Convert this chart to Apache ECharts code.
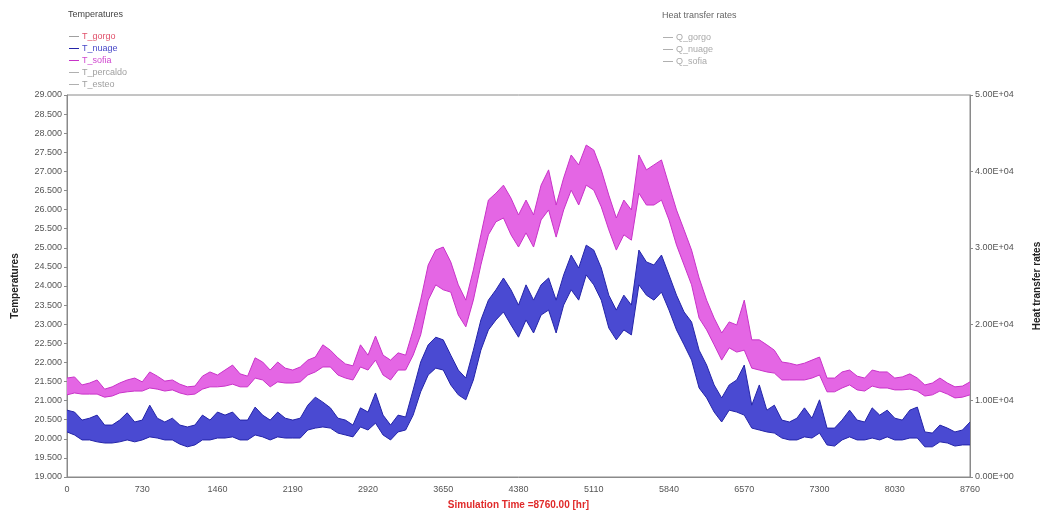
<!DOCTYPE html>
<html>
<head>
<meta charset="utf-8">
<script src="https://cdn.jsdelivr.net/npm/echarts@6/dist/echarts.min.js"></script>
<style>
html,body{margin:0;padding:0;background:#fff;}
#c{width:1041px;height:513px;}
</style>
</head>
<body>
<div id="c"></div>
<script>
// Sampling grid: hours 0..8760 every 73 h (121 samples)
const hours = [];
for (let i = 0; i <= 120; i++) hours.push(String(i * 73));

// X tick labels (every 730 h)
const xTickLabels = ['0','730','1460','2190','2920','3650','4380','5110','5840','6570','7300','8030','8760'];

// T_sofia (magenta) – upper and lower envelope of the hourly band
const tSofiaHi = [21.59,21.62,21.41,21.46,21.54,21.30,21.36,21.46,21.54,21.59,21.49,21.75,21.64,21.51,21.54,21.43,21.36,21.38,21.64,21.75,
  21.67,21.80,21.93,21.70,21.64,22.12,22.01,21.80,22.01,21.85,21.80,21.88,22.06,22.14,22.46,22.32,22.12,21.96,21.91,22.46,
  22.19,22.69,22.19,22.06,22.25,22.19,22.85,23.63,24.55,24.94,25.02,24.63,24.03,23.63,24.42,25.34,26.25,26.43,26.64,26.30,
  25.86,26.25,25.86,26.64,27.04,26.12,26.83,27.43,27.17,27.69,27.56,27.04,26.38,25.78,26.25,25.99,27.43,27.04,27.17,27.30,
  26.64,25.99,25.47,24.94,24.21,23.63,23.16,22.77,23.06,22.98,23.63,22.59,22.59,22.46,22.32,22.01,21.98,21.93,21.98,22.06,
  22.14,21.59,21.59,21.75,21.80,21.64,21.59,21.80,21.75,21.75,21.59,21.62,21.70,21.59,21.41,21.46,21.59,21.46,21.36,21.38,21.49];
const tSofiaLo = [21.15,21.20,21.17,21.17,21.17,21.09,21.12,21.20,21.23,21.25,21.25,21.33,21.30,21.25,21.28,21.20,21.15,21.17,21.30,21.36,
  21.36,21.38,21.43,21.36,21.36,21.59,21.54,21.36,21.49,21.46,21.46,21.49,21.67,21.75,21.88,21.88,21.67,21.59,21.54,21.88,
  21.80,22.06,21.67,21.54,21.80,21.80,22.19,22.72,23.63,24.03,23.90,23.84,23.24,22.93,23.63,24.55,25.34,25.68,25.78,25.34,
  25.02,25.39,25.02,25.73,25.99,25.28,25.99,26.51,26.12,26.64,26.51,26.07,25.47,24.94,25.34,25.20,26.43,26.12,26.12,26.25,
  25.73,25.07,24.55,24.03,23.16,22.85,22.46,22.06,22.38,22.27,22.32,21.85,21.80,21.75,21.72,21.54,21.54,21.54,21.54,21.59,
  21.67,21.23,21.23,21.33,21.41,21.28,21.25,21.38,21.33,21.33,21.28,21.28,21.30,21.25,21.12,21.15,21.25,21.17,21.07,21.09,21.15];

// T_nuage (blue) – upper and lower envelope
const tNuageHi = [20.75,20.70,20.49,20.54,20.62,20.36,20.36,20.49,20.68,20.44,20.49,20.88,20.54,20.44,20.54,20.36,20.31,20.36,20.62,20.49,
  20.70,20.62,20.70,20.49,20.49,20.83,20.62,20.49,20.70,20.54,20.49,20.54,20.88,21.09,20.96,20.81,20.54,20.49,20.36,20.81,
  20.70,21.20,20.62,20.36,20.62,20.57,21.28,22.01,22.46,22.66,22.59,22.19,21.80,21.59,22.32,23.11,23.63,23.90,24.21,23.90,
  23.50,24.03,23.63,24.03,24.21,23.63,24.29,24.81,24.47,25.07,24.94,24.47,23.76,23.37,23.76,23.50,24.94,24.63,24.55,24.81,
  24.29,23.76,23.32,23.06,22.32,21.93,21.41,21.07,21.41,21.54,21.93,20.88,21.41,20.75,20.88,20.49,20.44,20.54,20.81,20.54,
  21.02,20.28,20.28,20.49,20.75,20.49,20.44,20.81,20.62,20.75,20.54,20.49,20.75,20.83,20.18,20.15,20.36,20.28,20.18,20.23,20.44];
const tNuageLo = [20.18,20.10,19.97,19.97,19.92,19.89,19.89,19.92,19.97,19.92,19.97,20.05,20.02,19.97,19.97,19.86,19.79,19.84,19.97,19.97,
  20.02,20.02,20.05,19.97,19.97,20.10,20.05,19.97,20.05,20.02,20.02,20.02,20.23,20.28,20.31,20.28,20.15,20.10,20.05,20.31,
  20.23,20.41,20.10,19.97,20.18,20.23,20.62,21.23,21.67,21.85,21.80,21.41,21.15,21.02,21.54,22.32,22.85,23.11,23.32,22.98,
  22.66,23.11,22.77,23.24,23.37,22.77,23.50,23.90,23.63,24.29,24.03,23.63,22.90,22.59,22.85,22.72,24.03,23.76,23.63,23.84,
  23.37,22.85,22.46,22.06,21.33,21.07,20.70,20.44,20.75,20.70,20.62,20.28,20.23,20.18,20.15,20.02,19.97,19.97,20.05,20.02,
  20.15,19.84,19.81,19.97,20.05,19.97,19.97,20.02,19.97,20.05,19.97,19.97,20.02,20.02,19.79,19.79,19.92,19.89,19.81,19.84,19.84];

const tempLegend = ['T_gorgo','T_nuage','T_sofia','T_percaldo','T_esteo'];
const tempLegendColors = ['#e0506a','#4848c8','#d048d0','#a0a0a0','#a0a0a0'];
const heatLegend = ['Q_gorgo','Q_nuage','Q_sofia'];

const diff = (hi, lo) => hi.map((v, i) => +(v - lo[i]).toFixed(2));

function sciFmt(v) {
  if (v === 0) return '0.00E+00';
  const e = Math.floor(Math.log10(Math.abs(v)));
  const m = v / Math.pow(10, e);
  return m.toFixed(2) + 'E' + (e >= 0 ? '+' : '-') + String(Math.abs(e)).padStart(2, '0');
}

const FONT = 'Liberation Sans, Arial, sans-serif';
const labelStyle = { color: '#555', fontSize: 9, fontFamily: FONT };

const chart = echarts.init(document.getElementById('c'), null, { renderer: 'canvas' });

const bandSeries = (name, hi, lo, edge, fill) => [
  {
    name, type: 'line', yAxisIndex: 0, stack: name, data: lo, symbol: 'none',
    lineStyle: { color: edge, width: 1 }, itemStyle: { color: edge }, z: 3
  },
  {
    name, type: 'line', yAxisIndex: 0, stack: name, data: diff(hi, lo), symbol: 'none',
    lineStyle: { color: edge, width: 1 }, itemStyle: { color: edge },
    areaStyle: { color: fill, opacity: 1 }, z: 3
  }
];

chart.setOption({
  animation: false,
  grid: { left: 67, right: 71, top: 95, bottom: 36, show: true, borderColor: '#8a8a8a', borderWidth: 1,
          containLabel: false, outerBoundsMode: 'none' },
  graphic: [
    { type: 'text', left: 68, top: 10, style: { text: 'Temperatures', fill: '#444', font: '9px ' + FONT } },
    { type: 'text', left: 662, top: 11, style: { text: 'Heat transfer rates', fill: '#666', font: '9px ' + FONT } }
  ],
  legend: [
    {
      orient: 'vertical', left: 64, top: 26, itemGap: 1, itemWidth: 10, itemHeight: 1, icon: 'rect',
      textStyle: { fontSize: 9, fontFamily: FONT, lineHeight: 11, padding: [0, 0, 0, -2] },
      data: tempLegend.map((n, i) => ({ name: n, textStyle: { color: tempLegendColors[i] } }))
    },
    {
      orient: 'vertical', left: 658, top: 27, itemGap: 1, itemWidth: 10, itemHeight: 1, icon: 'rect',
      textStyle: { fontSize: 9, fontFamily: FONT, lineHeight: 11, color: '#aaa', padding: [0, 0, 0, -2] },
      data: heatLegend
    }
  ],
  xAxis: {
    type: 'category', data: hours, boundaryGap: false,
    name: 'Simulation Time =8760.00 [hr]', nameLocation: 'middle', nameGap: 23,
    nameTextStyle: { color: '#e02a2a', fontWeight: 'bold', fontSize: 10, fontFamily: FONT },
    axisLine: { lineStyle: { color: '#8a8a8a' } },
    axisTick: { show: false },
    axisLabel: Object.assign({}, labelStyle, {
      interval: (idx) => idx % 10 === 0,
      margin: 8,
      formatter: (v, idx) => xTickLabels[idx / 10]
    }),
    splitLine: { show: false }
  },
  yAxis: [
    {
      type: 'value', min: 19, max: 29, interval: 0.5,
      name: 'Temperatures', nameLocation: 'middle', nameGap: 47, nameRotate: 90,
      nameTextStyle: { color: '#222', fontWeight: 'bold', fontSize: 10, fontFamily: FONT },
      axisLine: { show: true, lineStyle: { color: '#8a8a8a' } },
      axisTick: { show: true, length: 3, lineStyle: { color: '#8a8a8a' } },
      axisLabel: Object.assign({}, labelStyle, { margin: 5, formatter: v => v.toFixed(3) }),
      splitLine: { show: false }
    },
    {
      type: 'value', min: 0, max: 50000, interval: 10000, position: 'right',
      name: 'Heat transfer rates', nameLocation: 'middle', nameGap: 62, nameRotate: 90,
      nameTextStyle: { color: '#222', fontWeight: 'bold', fontSize: 10, fontFamily: FONT },
      axisLine: { show: true, lineStyle: { color: '#8a8a8a' } },
      axisTick: { show: true, length: 3, lineStyle: { color: '#8a8a8a' } },
      axisLabel: Object.assign({}, labelStyle, { margin: 5, formatter: sciFmt }),
      splitLine: { show: false }
    }
  ],
  series: [
    { name: 'T_gorgo', type: 'line', data: [], symbol: 'none', itemStyle: { color: '#a0a0a0' }, lineStyle: { color: '#e0506a' } },
    ...bandSeries('T_nuage', tNuageHi, tNuageLo, '#2424a8', '#4a4ad2'),
    ...bandSeries('T_sofia', tSofiaHi, tSofiaLo, '#c832c8', '#e466e4'),
    { name: 'T_percaldo', type: 'line', data: [], symbol: 'none', itemStyle: { color: '#b0b0b0' } },
    { name: 'T_esteo', type: 'line', data: [], symbol: 'none', itemStyle: { color: '#b0b0b0' } },
    { name: 'Q_gorgo', type: 'line', yAxisIndex: 1, data: [], symbol: 'none', itemStyle: { color: '#b0b0b0' } },
    { name: 'Q_nuage', type: 'line', yAxisIndex: 1, data: [], symbol: 'none', itemStyle: { color: '#b0b0b0' } },
    { name: 'Q_sofia', type: 'line', yAxisIndex: 1, data: [], symbol: 'none', itemStyle: { color: '#b0b0b0' } }
  ]
});
</script>
</body>
</html>
